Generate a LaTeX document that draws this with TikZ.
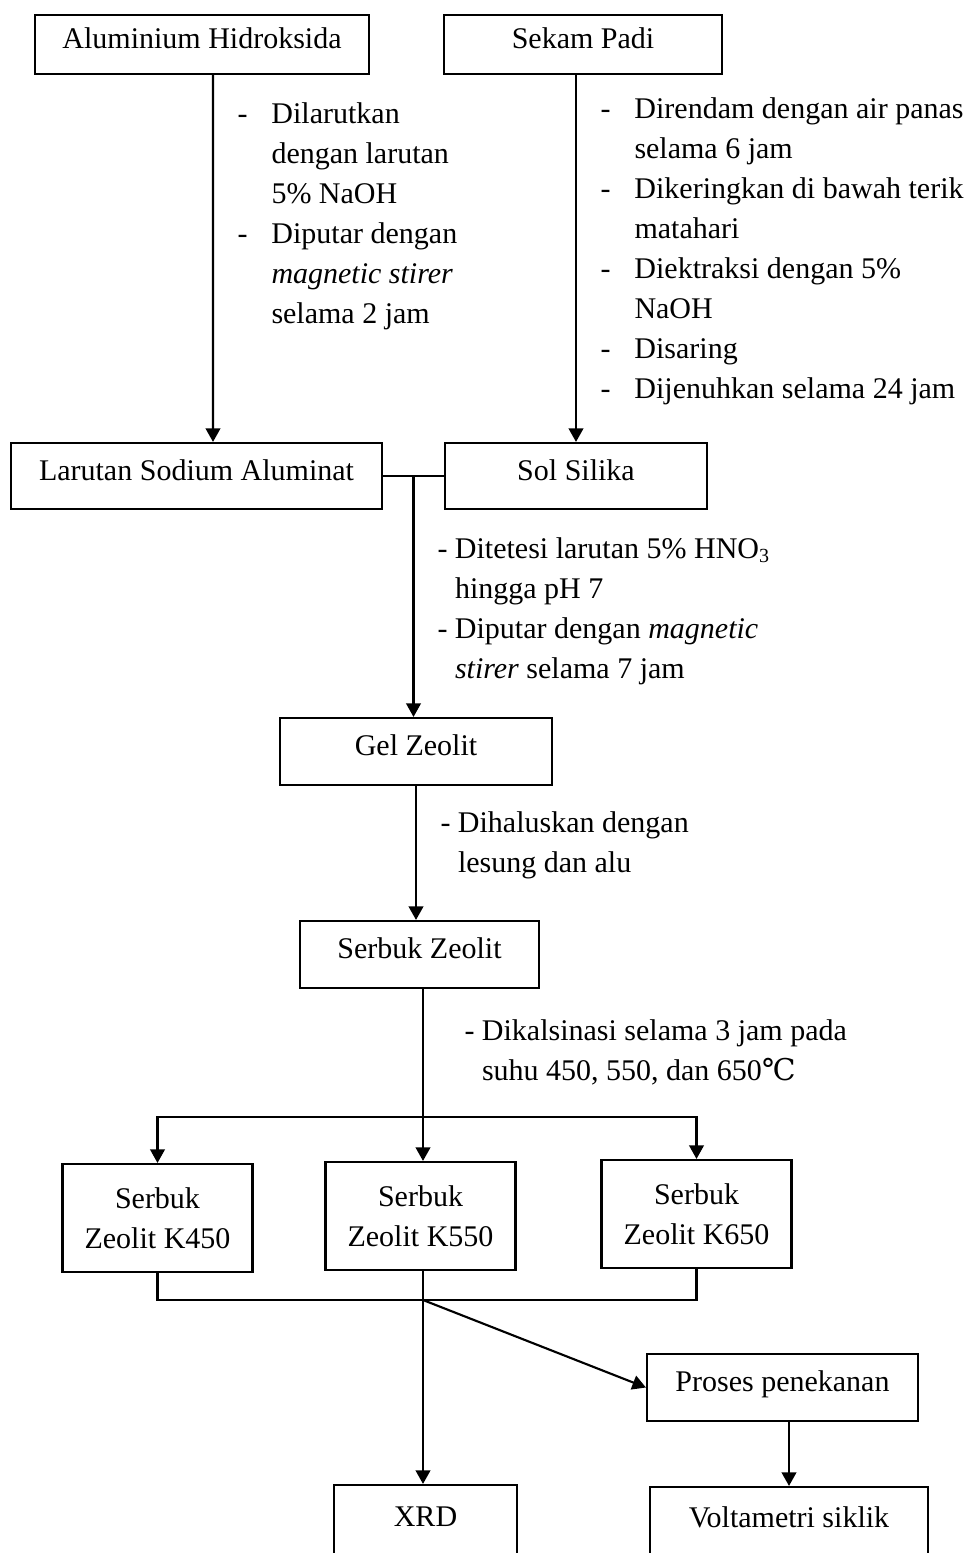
\documentclass[tikz,border=0pt]{standalone}
\usepackage{fontspec}
\setmainfont{Liberation Serif}
\newfontfamily\symfont{DejaVu Serif}
\usetikzlibrary{arrows.meta,calc}

\newcommand{\dsh}{\makebox[13.6pt][l]{-}}
\newcommand{\ind}{\makebox[13.6pt]{}}
\newcommand{\sdsh}{\makebox[7pt][l]{-}}
\newcommand{\sind}{\makebox[7pt]{}}

\begin{document}
\begin{tikzpicture}[
    x=0.4pt, y=-0.4pt,
    every node/.style={font=\fontsize{12}{16}\selectfont},
    box/.style={draw, line width=0.85pt, align=center, inner sep=0pt, text height=9pt, text depth=5.8pt},
    kbox/.style={draw, line width=0.85pt, align=center, inner sep=0pt, minimum width=76pt, minimum height=43.2pt},
    note/.style={align=left, inner sep=0pt, anchor=base west},
    arr/.style={-{Triangle[length=5.4pt, width=5.8pt]}, line width=0.85pt},
    ln/.style={line width=0.85pt},
]
\useasboundingbox (0,0) rectangle (967,1553);

% Raw materials (top)
\node[box, minimum width=133.6pt, minimum height=23.6pt] (alh) at (202,44.5) {Aluminium Hidroksida};
\node[box, minimum width=111.2pt, minimum height=23.6pt] (sp) at (583,44.5) {Sekam Padi};

% Precursor solutions
\node[box, minimum width=148.4pt, minimum height=26.4pt] (lsa) at (196.5,476) {Larutan Sodium Aluminat};
\node[box, minimum width=104.8pt, minimum height=26.4pt] (ss) at (576,476) {Sol Silika};

% Zeolite synthesis
\node[box, minimum width=108.8pt, minimum height=26.8pt] (gel) at (416,751.5) {Gel Zeolit};
\node[box, minimum width=95.6pt, minimum height=26.8pt] (sz) at (419.5,954.5) {Serbuk Zeolit};

% Calcined samples
\node[kbox] (k450) at (157.5,1218) {Serbuk\\Zeolit K450};
\node[kbox] (k550) at (420.5,1216) {Serbuk\\Zeolit K550};
\node[kbox] (k650) at (696.5,1214) {Serbuk\\Zeolit K650};

% Characterisation (bottom, cut by the page edge)
\node[box, minimum width=108.4pt, minimum height=26.8pt] (pp) at (782.5,1387.5) {Proses penekanan};
\node[box, minimum width=73.2pt, minimum height=30pt] (xrd) at (425.5,1522.5) {XRD};
\node[box, minimum width=111.2pt, minimum height=29.2pt] (vs) at (789,1523.5) {Voltametri siklik};

% Process notes (anchored at the baseline of their last line)
\node[note] (n1) at (237,323) {\dsh Dilarutkan\\ \ind dengan larutan\\ \ind 5\% NaOH\\
  \dsh Diputar dengan\\ \ind \textit{magnetic stirer}\\ \ind selama 2 jam};
\node[note] (n2) at (600,398) {\dsh Direndam dengan air panas\\ \ind selama 6 jam\\
  \dsh Dikeringkan di bawah terik\\ \ind matahari\\ \dsh Diektraksi dengan 5\%\\ \ind NaOH\\
  \dsh Disaring\\ \dsh Dijenuhkan selama 24 jam};
\node[note] (n3) at (437,678) {\sdsh Ditetesi larutan 5\% HNO\textsubscript{3}\\ \sind hingga pH 7\\
  \sdsh Diputar dengan \textit{magnetic}\\ \sind \textit{stirer} selama 7 jam};
\node[note] (n4) at (440,872) {\sdsh Dihaluskan dengan\\ \sind lesung dan alu};
\node[note] (n5) at (464,1080) {\sdsh Dikalsinasi selama 3 jam pada\\ \sind suhu 450, 550, dan 650{\symfont ℃}};

% Junction points
\coordinate (mix) at ($(lsa.east)!0.5!(ss.west)$);
\coordinate (split) at (423,1117);
\coordinate (merge) at (423,1300);

% Flow
\draw[arr] ([xshift=4.4pt]alh.south) -- ([xshift=6.6pt]lsa.north);
\draw[arr] (sp.south -| ss.north) -- (ss.north);
\draw[ln] (lsa.east) -- (ss.west);
\draw[arr] (mix) -- (mix |- gel.north);
\draw[arr] (gel.south) -- (gel.south |- sz.north);
\draw[ln] (sz.south -| split) -- (split);
\draw[arr] (split) -| (k450.north);
\draw[arr] (split) -- (split |- k550.north);
\draw[arr] (split) -| (k650.north);
\draw[ln] (k450.south) |- (merge) -| (k650.south);
\draw[ln] (k550.south -| merge) -- (merge);
\draw[arr] (merge) -- (merge |- xrd.north);
\draw[arr] (merge) -- (pp.west);
\draw[arr] (pp.south -| vs.north) -- (vs.north);

\end{tikzpicture}
\end{document}
